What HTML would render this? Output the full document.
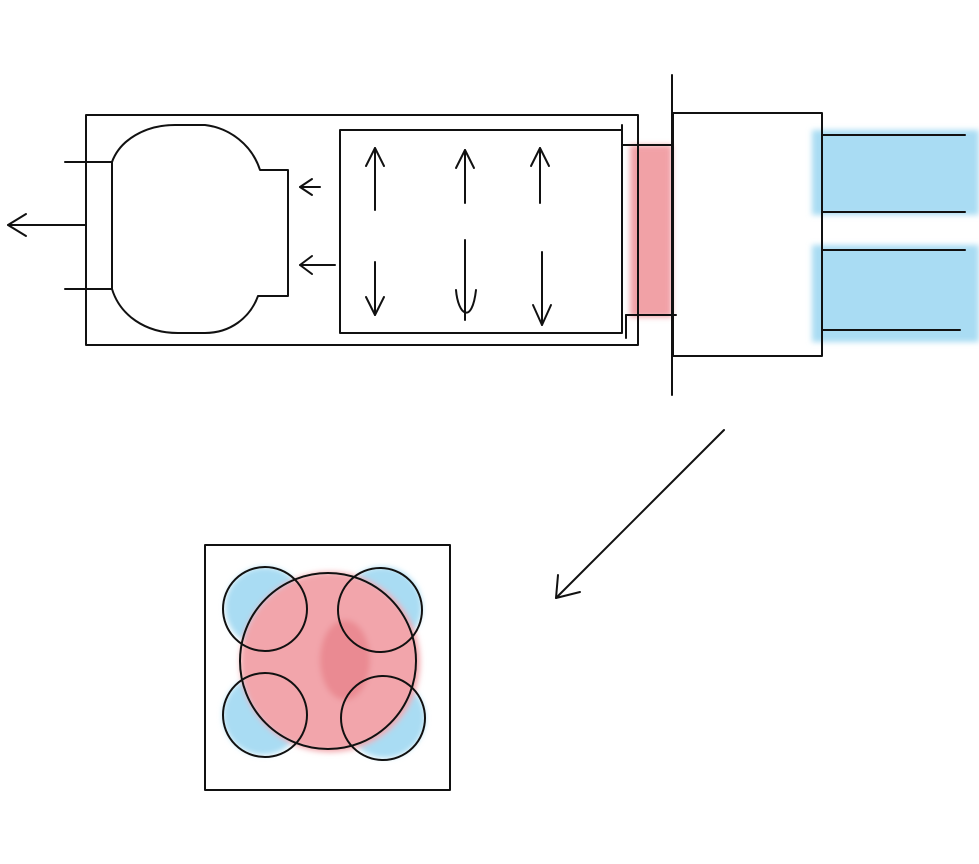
<!DOCTYPE html>
<html><head><meta charset="utf-8"><style>html,body{margin:0;padding:0;background:#fff}svg{display:block}</style></head>
<body>
<svg width="979" height="864" viewBox="0 0 979 864" xmlns="http://www.w3.org/2000/svg">
<defs><filter id="b" x="-20%" y="-20%" width="140%" height="140%"><feGaussianBlur stdDeviation="3"/></filter></defs>
<rect width="979" height="864" fill="#fff"/>
<!-- color fills -->
<g filter="url(#b)">
<rect x="630" y="145" width="42" height="172" fill="#ee8a90" opacity="0.8"/>
<rect x="812" y="130" width="167" height="85" fill="#a9dcf3"/>
<rect x="812" y="245" width="167" height="97" fill="#a9dcf3"/>
<circle cx="265" cy="607" r="40" fill="#a9dcf3"/>
<circle cx="382" cy="607" r="40" fill="#a9dcf3"/>
<circle cx="263" cy="715" r="40" fill="#a9dcf3"/>
<circle cx="385" cy="718" r="40" fill="#a9dcf3"/>
<circle cx="330" cy="662" r="90" fill="#f2a5ab"/>
<ellipse cx="345" cy="660" rx="25" ry="40" fill="#ea8a92"/>
</g>
<g fill="none" stroke="#111" stroke-width="2" stroke-linecap="round" stroke-linejoin="round">
<rect x="86" y="115" width="552" height="230"/>
<line x1="86" y1="225" x2="8" y2="225"/><polyline points="26,214 8,225 26,236"/>
<line x1="65" y1="162" x2="112" y2="162"/><line x1="65" y1="289" x2="112" y2="289"/>
<line x1="112" y1="162" x2="112" y2="289"/>
<path d="M112,162 C120,140 145,125 175,125 L205,125 C230,128 252,145 260,170 L288,170 L288,296 L258,296 C250,318 230,333 205,333 L178,333 C145,333 120,315 112,289"/>
<line x1="300" y1="187" x2="320" y2="187"/><polyline points="312,179 300,187 312,195"/>
<line x1="300" y1="265" x2="335" y2="265"/><polyline points="312,256 300,265 312,274"/>
<rect x="340" y="130" width="282" height="203"/>
<line x1="622" y1="125" x2="622" y2="145"/><line x1="622" y1="145" x2="672" y2="145"/>
<line x1="626" y1="315" x2="626" y2="338"/><line x1="626" y1="315" x2="676" y2="315"/>
<line x1="672" y1="75" x2="672" y2="395"/>
<rect x="673" y="113" width="149" height="243"/>
<line x1="822" y1="135" x2="965" y2="135"/><line x1="822" y1="212" x2="965" y2="212"/>
<line x1="822" y1="250" x2="965" y2="250"/><line x1="822" y1="330" x2="960" y2="330"/>
<line x1="375" y1="210" x2="375" y2="148"/><polyline points="366,166 375,148 384,166"/>
<line x1="465" y1="203" x2="465" y2="150"/><polyline points="456,168 465,150 474,168"/>
<line x1="540" y1="203" x2="540" y2="148"/><polyline points="531,166 540,148 549,166"/>
<line x1="375" y1="262" x2="375" y2="315"/><polyline points="366,297 375,315 384,297"/>
<line x1="465" y1="240" x2="465" y2="320"/><path d="M456,290 C458,315 472,325 476,290"/>
<line x1="542" y1="252" x2="542" y2="325"/><polyline points="533,305 542,325 551,305"/>
<line x1="724" y1="430" x2="556" y2="598"/><polyline points="558,575 556,598 580,592"/>
<rect x="205" y="545" width="245" height="245"/>
<circle cx="328" cy="661" r="88"/>
<circle cx="265" cy="609" r="42"/><circle cx="380" cy="610" r="42"/>
<circle cx="265" cy="715" r="42"/><circle cx="383" cy="718" r="42"/>
</g>
</svg>
</body></html>
